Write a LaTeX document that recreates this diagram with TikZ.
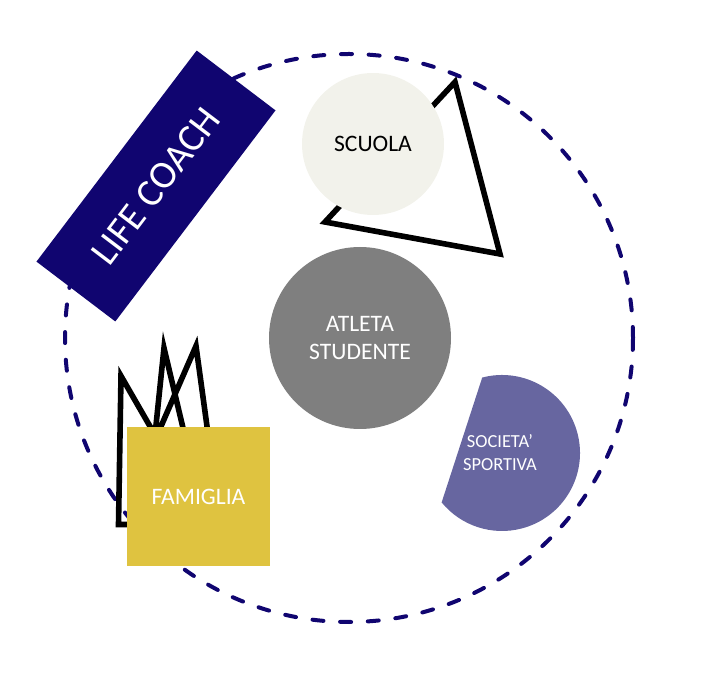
\documentclass[tikz,border=0pt]{standalone}
\usepackage{fontspec}
\setmainfont{Carlito}
\definecolor{navy}{RGB}{16,5,112}
\definecolor{chalk}{RGB}{242,242,235}
\definecolor{ash}{RGB}{127,127,127}
\definecolor{mustard}{RGB}{223,195,64}
\definecolor{lilac}{RGB}{103,102,160}

\begin{document}
\begin{tikzpicture}[x=1pt, y=1pt,
			bubble/.style={circle, inner sep=0pt, align=center, font=\fontsize{23.6}{28}\selectfont},
			ring/.style={circle, draw=navy, line width=4pt, dash pattern=on 11pt off 16.7pt, line cap=round, inner sep=0pt, minimum size=568pt},
			coachbox/.style={rectangle, fill=navy, text=white, rotate=52.8, minimum width=265pt, minimum height=99pt, font=\fontsize{39}{44}\selectfont},
			familybox/.style={rectangle, fill=mustard, text=white, minimum width=143pt, minimum height=139pt, font=\fontsize{23.6}{28}\selectfont},
			sporttext/.style={align=center, text=white, inner sep=0pt, font=\fontsize{18.4}{23}\selectfont},
			outline/.style={draw=black, line width=5.6pt}]
			\useasboundingbox (0,0) rectangle (720,675);
			\draw[outline] (455,593) -- (500,421) -- (325,453) -- cycle;
			\node[ring] (ring) at (349,337) {};
			\node[bubble, fill=chalk, minimum size=142pt] (scuola) at (373,531) {SCUOLA};
			\node[coachbox] (coach) at (156,489) {LIFE COACH};
			\draw[outline] (118.5,150.5) -- (121,299) -- (155,240) -- (164,327) -- (193,205) -- (142,205) -- (196,329) -- (213,205) -- (213,150.5) -- cycle;
			\node[familybox] (famiglia) at (198.5,178.5) {FAMIGLIA};
			\node[bubble, fill=ash, text=white, minimum size=182pt] (atleta) at (360,337) {ATLETA\\STUDENTE};
			\fill[lilac] (502,222) ++(104.7:78) arc[start angle=104.7, end angle=-140.7, radius=78] -- cycle;
			\node[sporttext] (societa) at (500,222) {SOCIETA'\\SPORTIVA};
		\end{tikzpicture}
\end{document}
